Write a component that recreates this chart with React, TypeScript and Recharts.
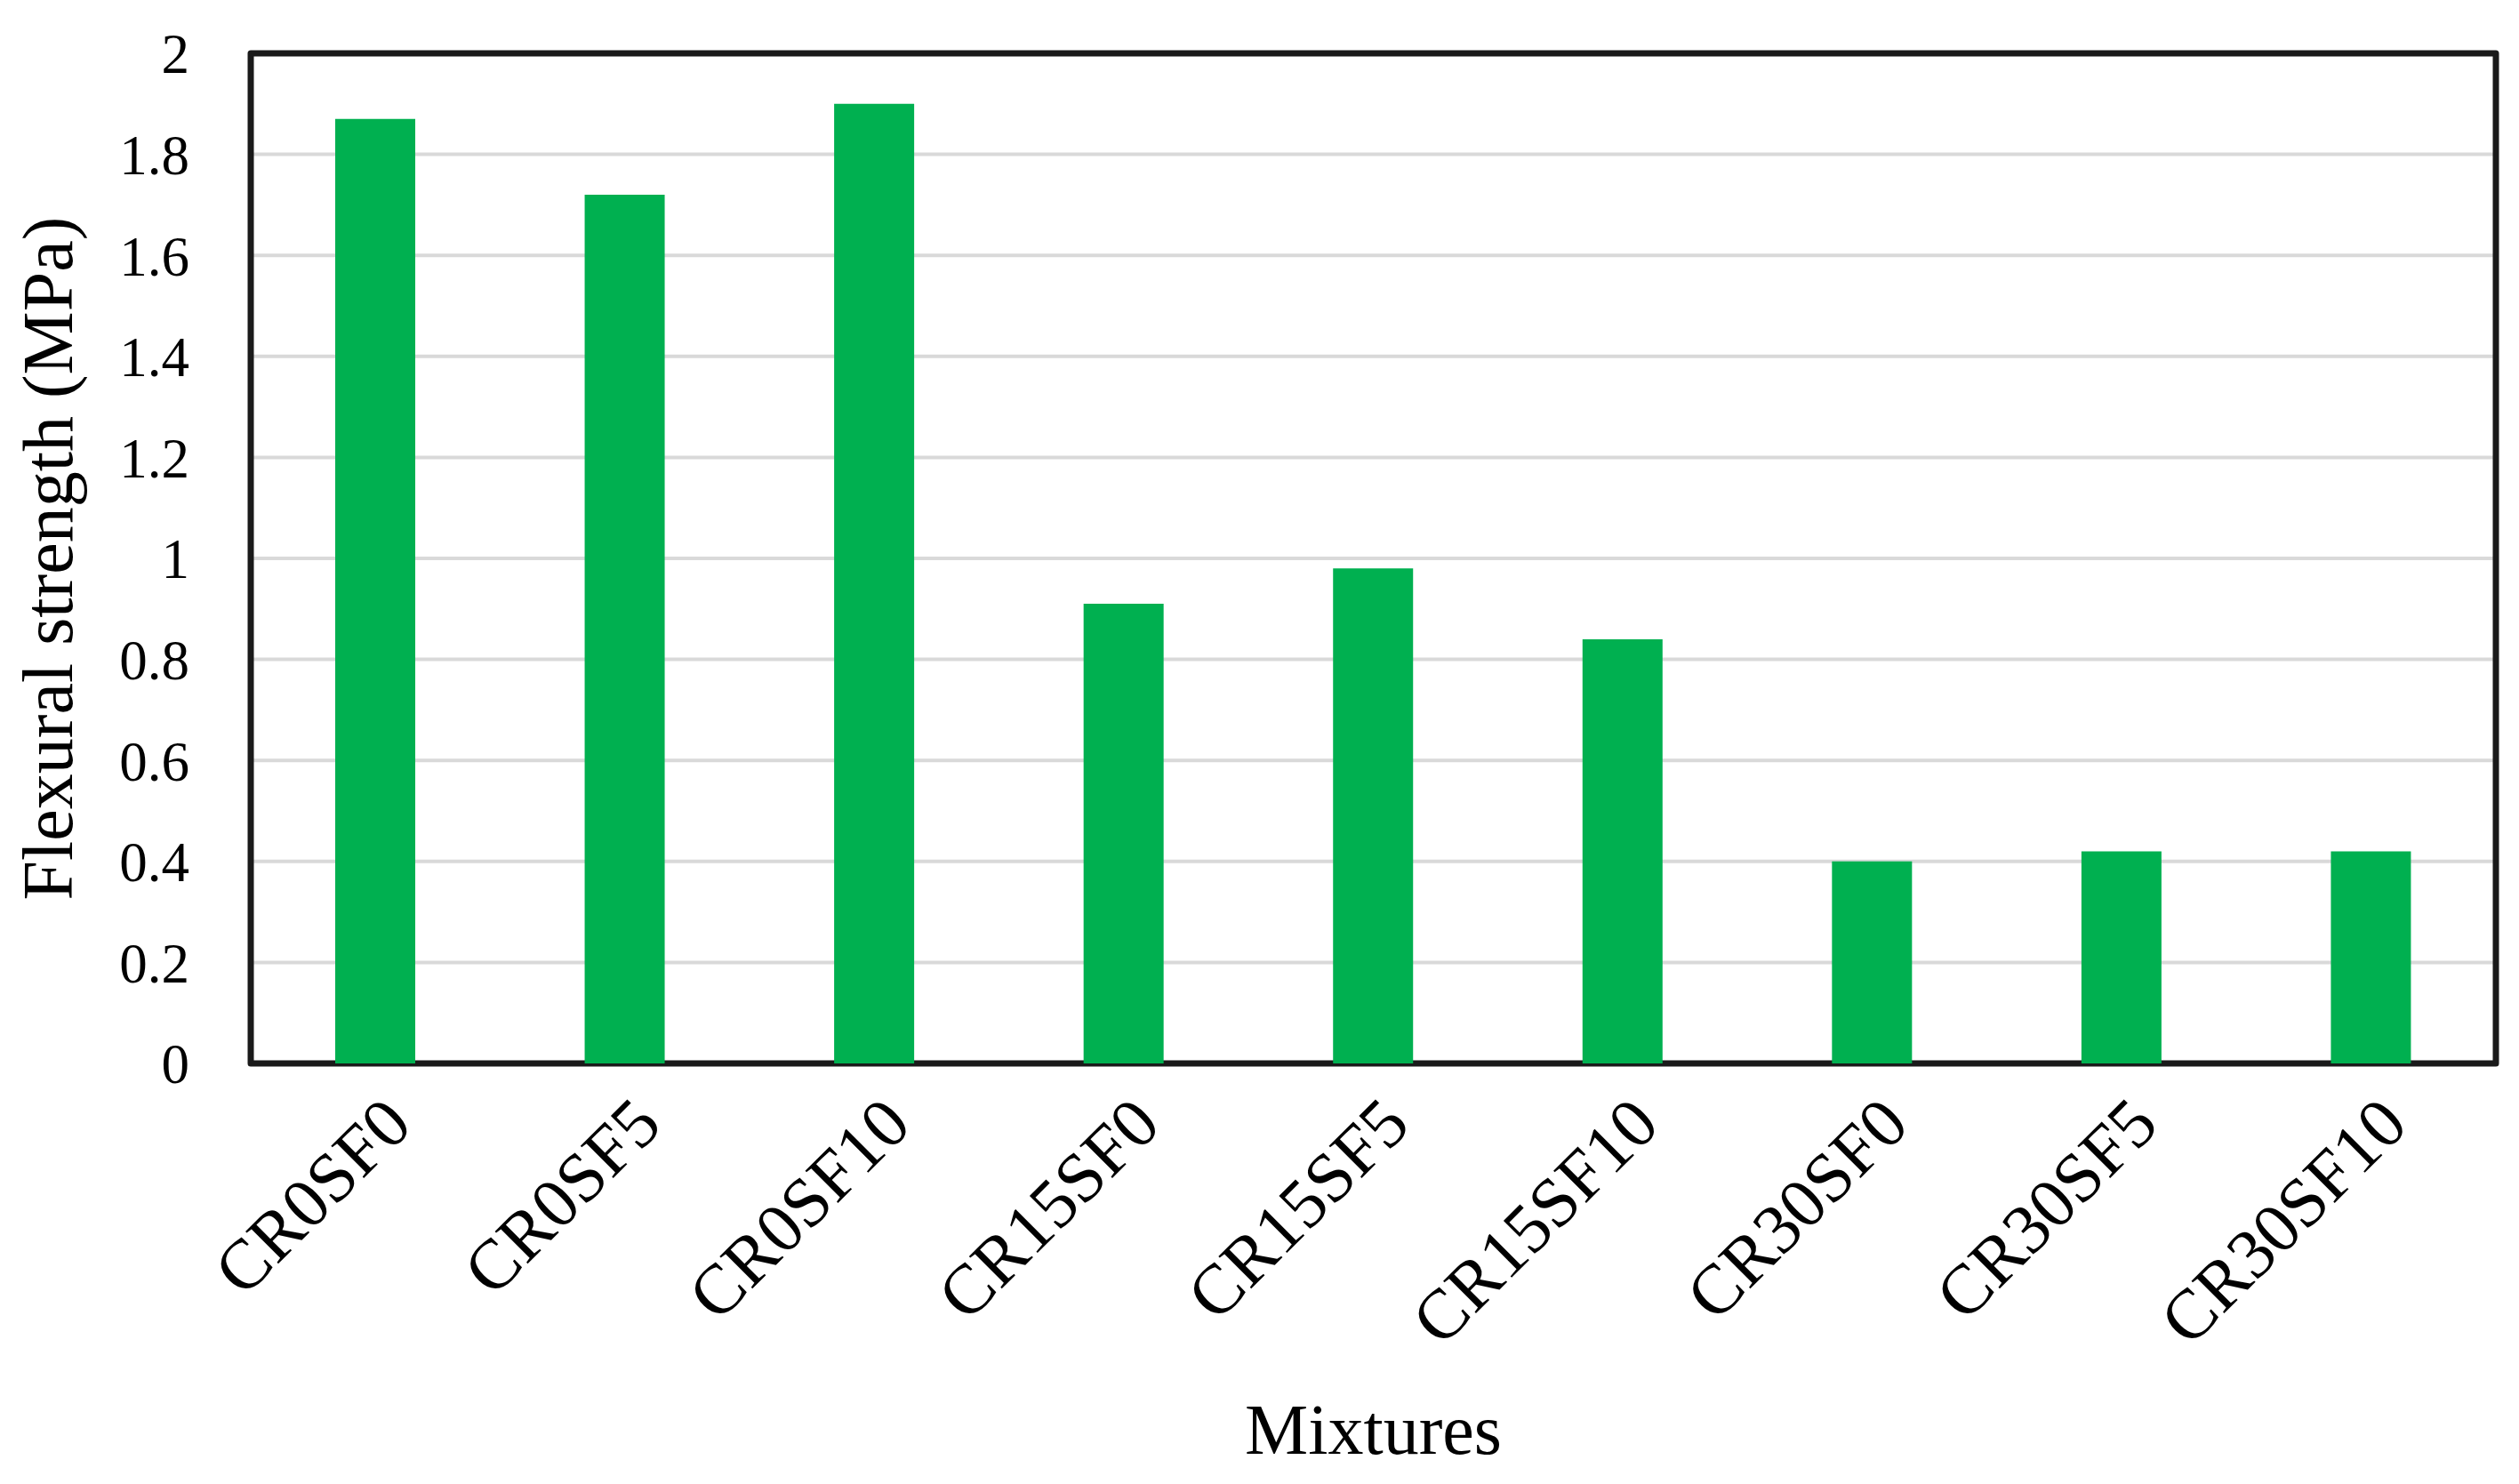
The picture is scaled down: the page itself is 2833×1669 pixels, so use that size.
import { Bar, BarChart, CartesianGrid, ReferenceArea, XAxis, YAxis } from "recharts"

const mixtures = ["CR0SF0", "CR0SF5", "CR0SF10", "CR15SF0", "CR15SF5", "CR15SF10", "CR30SF0", "CR30SF5", "CR30SF10"]
const flexuralStrength = [1.87, 1.72, 1.9, 0.91, 0.98, 0.84, 0.4, 0.42, 0.42]
const strengthTicks = [0, 0.2, 0.4, 0.6, 0.8, 1, 1.2, 1.4, 1.6, 1.8, 2]

const data = mixtures.map((name, i) => ({ name, strength: flexuralStrength[i] }))

const serif = '"Liberation Serif", "Times New Roman", serif'

function MixtureTick(props: any) {
  const { x, y, payload } = props
  return (
    <g transform={`translate(${x + 44},${y + 70})`}>
      <text x={0} y={0} textAnchor="end" transform="rotate(-45)" fontFamily={serif} fontSize={79} fill="#000">
        {payload.value}
      </text>
    </g>
  )
}

function YTitle(props: any) {
  const vb = props.viewBox
  const cx = vb.x + 54
  const cy = vb.y + vb.height / 2
  return (
    <text
      x={cx}
      y={cy}
      transform={`rotate(-90, ${cx}, ${cy})`}
      textAnchor="middle"
      dominantBaseline="central"
      fontFamily={serif}
      fontSize={80}
      fill="#000"
    >
      Flexural strength (MPa)
    </text>
  )
}

function XTitle(props: any) {
  const vb = props.viewBox
  return (
    <text x={vb.x + vb.width / 2} y={vb.y + 439} textAnchor="middle" fontFamily={serif} fontSize={80} fill="#000">
      Mixtures
    </text>
  )
}

export default function App() {
  return (
    <div style={{ position: "absolute", left: 0, top: 0, background: "#fff" }}>
      <BarChart width={2833} height={1669} data={data} margin={{ top: 60, right: 26, bottom: 0, left: 0 }} barSize={90}>
        <CartesianGrid vertical={false} stroke="#d9d9d9" strokeWidth={4} />
        <XAxis
          dataKey="name"
          height={473}
          interval={0}
          tickLine={false}
          tickSize={0}
          axisLine={false}
          tick={<MixtureTick />}
          label={{ content: <XTitle /> }}
        />
        <YAxis
          domain={[0, 2]}
          ticks={strengthTicks}
          interval={0}
          width={282}
          tickLine={false}
          tickSize={0}
          tickMargin={69}
          axisLine={false}
          tick={{ fontFamily: serif, fontSize: 63, fill: "#000" }}
          label={{ content: <YTitle /> }}
        />
        <Bar dataKey="strength" fill="#00b050" isAnimationActive={false} />
        <ReferenceArea
          y1={0}
          y2={2}
          fill="none"
          fillOpacity={0}
          stroke="#1a1a1a"
          strokeWidth={7}
          strokeLinejoin="round"
        />
      </BarChart>
    </div>
  )
}
